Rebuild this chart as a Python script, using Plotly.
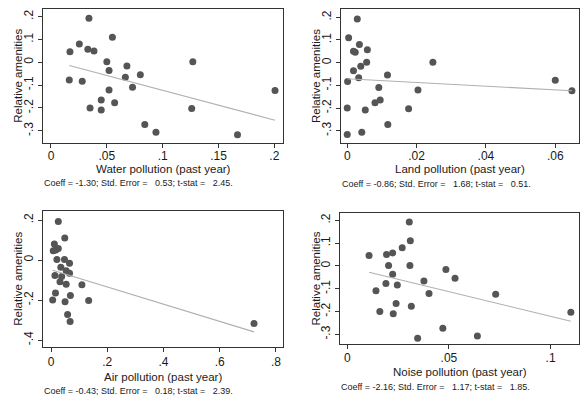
import numpy as np
import plotly.graph_objects as go

# Relative amenities (y) for 25 cities, and pollution measures (x) per city
amenities = [0.193, 0.110, 0.080, 0.057, 0.050, 0.046, 0.002, 0.002, -0.016, -0.036,
             -0.054, -0.066, -0.077, -0.083, -0.109, -0.121, -0.124, -0.165, -0.177,
             -0.200, -0.203, -0.209, -0.273, -0.307, -0.317]
water = [0.034, 0.055, 0.0254, 0.033, 0.0385, 0.017, 0.050, 0.127, 0.068, 0.052,
         0.080, 0.0666, 0.0164, 0.028, 0.073, 0.052, 0.2006, 0.045, 0.057,
         0.035, 0.126, 0.045, 0.084, 0.094, 0.167]
land = [0.0029, 0.0004, 0.0035, 0.0058, 0.0018, 0.0023, 0.0056, 0.0247, 0.0039, 0.0018,
        0.0116, 0.0033, 0.060, 0.0001, 0.0091, 0.0204, 0.0648, 0.0095, 0.008,
        0.0, 0.0177, 0.0052, 0.0117, 0.0042, 0.0]
air = [0.026, 0.049, 0.012, 0.026, 0.017, 0.008, 0.021, 0.048, 0.066, 0.035,
       0.054, 0.066, 0.014, 0.038, 0.032, 0.054, 0.110, 0.016, 0.069,
       0.006, 0.134, 0.050, 0.059, 0.068, 0.722]
noise = [0.0305, 0.031, 0.027, 0.0223, 0.0193, 0.0107, 0.0203, 0.0308, 0.0485, 0.0223,
         0.053, 0.0377, 0.019, 0.0246, 0.0141, 0.0402, 0.073, 0.024, 0.0315,
         0.016, 0.110, 0.0226, 0.047, 0.064, 0.0346]

x_titles = ["Water pollution (past year)", "Land pollution (past year)",
            "Air pollution (past year)", "Noise pollution (past year)"]
notes = ["Coeff = -1.30; Std. Error =   0.53; t-stat =   2.45.",
         "Coeff = -0.86; Std. Error =   1.68; t-stat =   0.51.",
         "Coeff = -0.43; Std. Error =   0.18; t-stat =   2.39.",
         "Coeff = -2.16; Std. Error =   1.17; t-stat =   1.85."]
x_ticks = [[0, 0.05, 0.1, 0.15, 0.2], [0, 0.02, 0.04, 0.06],
           [0, 0.2, 0.4, 0.6, 0.8], [0, 0.05, 0.1]]
x_ticktext = [["0", ".05", ".1", ".15", ".2"], ["0", ".02", ".04", ".06"],
              ["0", ".2", ".4", ".6", ".8"], ["0", ".05", ".1"]]
y_ticks = [[-0.3, -0.2, -0.1, 0, 0.1, 0.2], [-0.3, -0.2, -0.1, 0, 0.1, 0.2],
           [-0.4, -0.2, 0, 0.2], [-0.3, -0.2, -0.1, 0, 0.1, 0.2]]
y_ticktext = [["-.3", "-.2", "-.1", "0", ".1", ".2"], ["-.3", "-.2", "-.1", "0", ".1", ".2"],
              ["-.4", "-.2", "0", ".2"], ["-.3", "-.2", "-.1", "0", ".1", ".2"]]
xs_all = [water, land, air, noise]

W, H = 581, 402
# plot-region boxes in pixels: (left, right, top, bottom)
boxes = [(42.7, 283.3, 8.7, 143.3), (341, 578.5, 8.7, 143.3),
         (42.7, 282.7, 211, 347), (340, 579, 213, 344)]
x_ranges = [[-0.0074, 0.208], [-0.0018, 0.0667], [-0.0295, 0.824], [-0.0036, 0.114]]
y_ranges = [[-0.355, 0.235], [-0.3556, 0.238], [-0.435, 0.245], [-0.342, 0.232]]
# pixel rows of: x title centre, note centre; tick label standoff
title_y = [169, 169.5, 377, 372]
note_y = [183, 183.5, 391, 387]
tick_standoff = [-3, -3, 0, -1]

FONT = "Liberation Sans, Arial, Helvetica, sans-serif"
TXT = "#1a1a1a"
fig = go.Figure()
annotations = []
for i in range(4):
    xs = np.array(xs_all[i])
    ys = np.array(amenities)
    sfx = "" if i == 0 else str(i + 1)
    fig.add_trace(go.Scatter(x=xs, y=ys, mode="markers",
                             marker=dict(size=7, color="#555555"),
                             xaxis="x" + sfx, yaxis="y" + sfx, showlegend=False))
    b, a = np.polyfit(xs, ys, 1)
    lx = np.array([xs.min(), xs.max()])
    fig.add_trace(go.Scatter(x=lx, y=a + b * lx, mode="lines",
                             line=dict(color="#b0b0b0", width=1.1),
                             xaxis="x" + sfx, yaxis="y" + sfx, showlegend=False))
    l, r, t, bt = boxes[i]
    ax = dict(domain=[l / W, r / W], range=x_ranges[i], tickvals=x_ticks[i],
              ticktext=x_ticktext[i], showgrid=False, zeroline=False,
              showline=True, mirror=True, linecolor="#333333", linewidth=1,
              ticks="outside", ticklen=4, tickcolor="#333333",
              ticklabelstandoff=tick_standoff[i],
              tickfont=dict(family=FONT, size=12, color=TXT),
              anchor="y" + sfx)
    ay = dict(domain=[1 - bt / H, 1 - t / H], range=y_ranges[i], tickvals=y_ticks[i],
              ticktext=y_ticktext[i], showgrid=False, zeroline=False,
              showline=True, mirror=True, linecolor="#333333", linewidth=1,
              ticks="outside", ticklen=4, tickcolor="#333333", tickangle=-90,
              tickfont=dict(family=FONT, size=12, color=TXT),
              anchor="x" + sfx)
    fig.layout["xaxis" + sfx] = ax
    fig.layout["yaxis" + sfx] = ay
    annotations.append(dict(text=x_titles[i], x=(l + r) / 2 / W, y=1 - title_y[i] / H,
                            xref="paper", yref="paper", showarrow=False,
                            xanchor="center", yanchor="middle",
                            font=dict(family=FONT, size=11.5, color=TXT)))
    annotations.append(dict(text="Relative amenities", x=(l - 25) / W, y=1 - (t + bt) / 2 / H,
                            xref="paper", yref="paper", showarrow=False, textangle=-90,
                            xanchor="center", yanchor="middle",
                            font=dict(family=FONT, size=11.5, color=TXT)))
    annotations.append(dict(text=notes[i].replace(" ", "\u00a0"), x=(l - 1) / W,
                            y=1 - note_y[i] / H,
                            xref="paper", yref="paper", showarrow=False,
                            xanchor="left", yanchor="middle",
                            font=dict(family=FONT, size=9, color=TXT)))

fig.update_layout(width=W, height=H, margin=dict(l=0, r=0, t=0, b=0),
                  paper_bgcolor="white", plot_bgcolor="white",
                  annotations=annotations)
fig.write_html("out.html", config={"displayModeBar": False},
               post_script="document.body.style.margin='0';document.body.style.padding='0';")
